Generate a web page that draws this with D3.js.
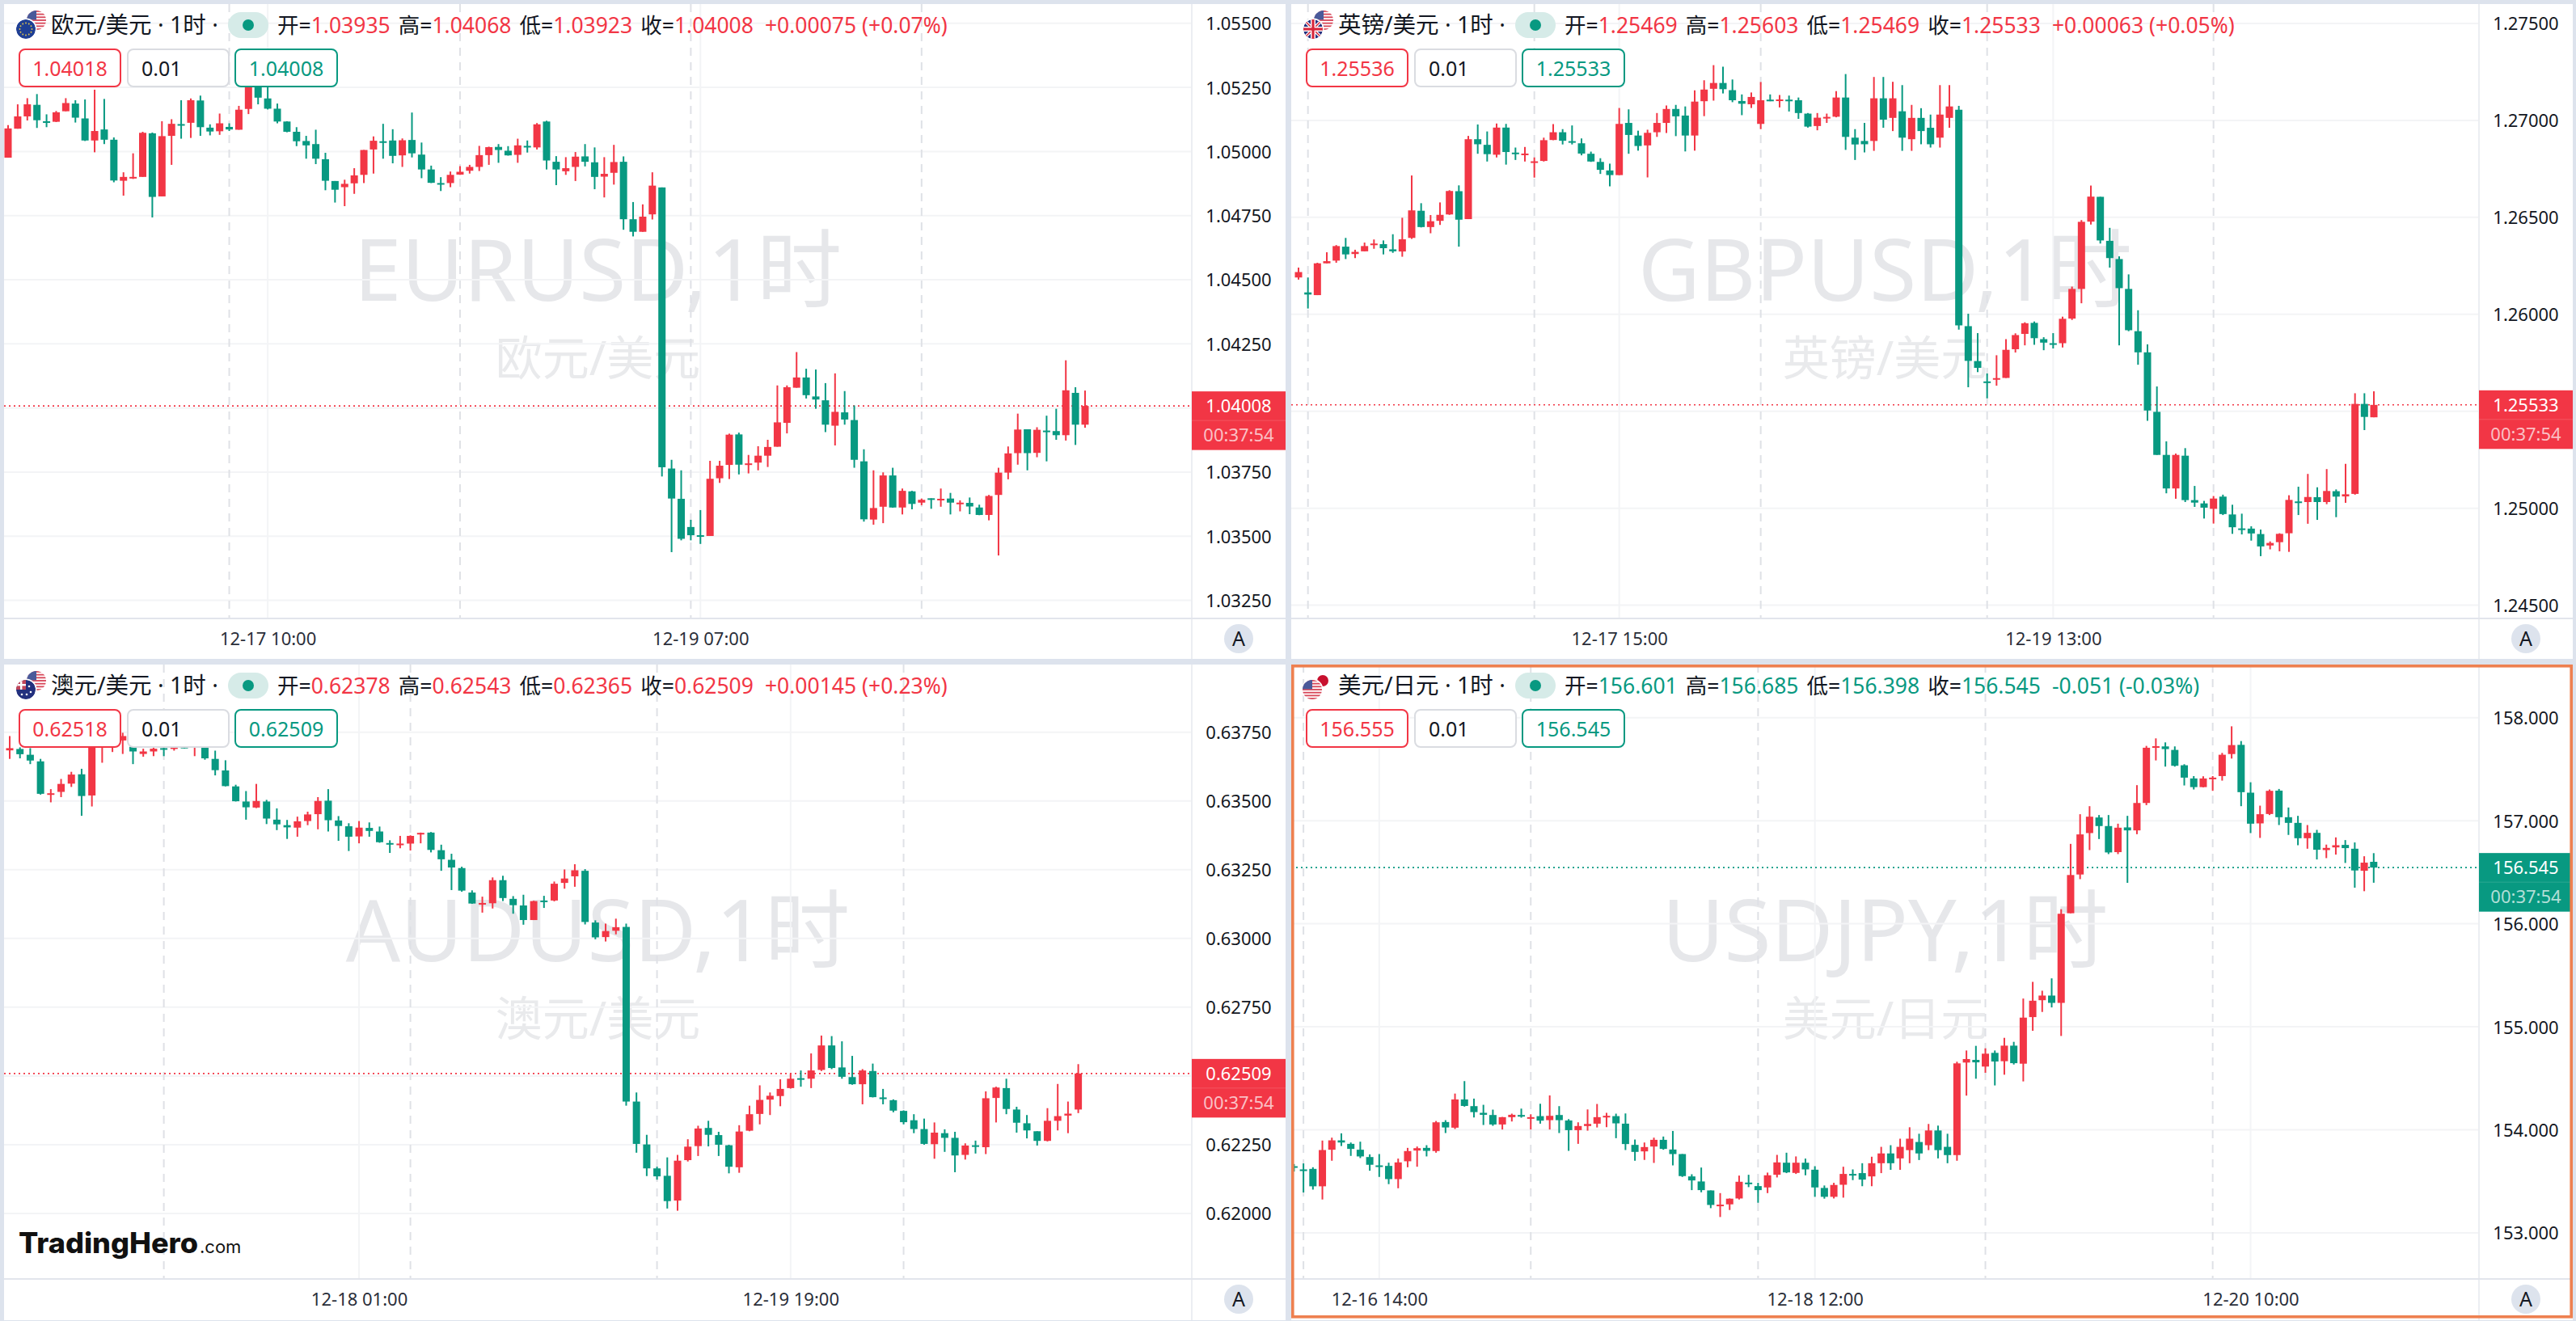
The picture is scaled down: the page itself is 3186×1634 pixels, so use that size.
<!DOCTYPE html>
<html><head><meta charset="utf-8">
<script src="https://cdn.jsdelivr.net/npm/d3@7/dist/d3.min.js"></script>
<style>
html,body{margin:0;padding:0;background:#dde3ed;}
svg{display:block;}
text{font-family:"Noto Sans","Noto Sans CJK SC",sans-serif;}
</style></head><body>
<svg id="chart" width="3186" height="1634" xmlns="http://www.w3.org/2000/svg"></svg>
<script>
// ---------- DATA: rows are [open, high, low, close] in price points ----------
const eurusdBars=[
[104976,105103,104976,105090],[105089,105184,105089,105137],[105137,105208,105121,105184],[105182,105224,105092,105122],[105118,105145,105095,105115],[105116,105158,105115,105153],[105157,105208,105157,105189],[105187,105200,105113,105132],[105129,105203,105041,105043],[105043,105241,104997,105080],
[105086,105205,105029,105046],[105046,105055,104880,104887],[104886,104919,104828,104901],[104897,104993,104893,104901],[104901,105077,104901,105073],[105071,105074,104743,104823],[104825,105118,104825,105060],[105061,105126,104948,105108],[105107,105200,105050,105104],[105112,105207,105053,105200],
[105199,105218,105061,105095],[105093,105106,105063,105078],[105079,105148,105065,105110],[105096,105110,105080,105086],[105085,105178,105085,105163],[105166,105300,105146,105287],[105276,105292,105184,105210],[105207,105255,105164,105167],[105167,105187,105110,105117],[105117,105118,105075,105077],
[105077,105095,105021,105040],[105041,105061,104972,105024],[105029,105085,104951,104972],[104970,104995,104849,104886],[104885,104885,104801,104851],[104861,104890,104787,104874],[104876,104935,104835,104907],[104909,105006,104877,105006],[105008,105059,104914,105042],[105040,105108,104972,105038],
[105043,105087,104954,104983],[104985,105051,104940,105044],[105045,105152,104977,104993],[104988,105035,104896,104930],[104930,104945,104877,104878],[104877,104900,104846,104874],[104877,104922,104861,104909],[104910,104943,104909,104921],[104925,104948,104914,104940],[104940,105022,104924,104986],
[104986,105019,104948,105017],[105018,105029,104956,105006],[105003,105021,104984,104985],[104987,105050,104956,105024],[105022,105043,104996,105020],[105016,105111,105008,105106],[105117,105120,104930,104965],[104960,104982,104869,104930],[104923,104978,104909,104935],[104940,104998,104885,104980],
[104981,105029,104942,104960],[104958,105016,104853,104901],[104902,104978,104821,104913],[104917,105026,104871,104959],[104960,104981,104695,104736],[104736,104803,104669,104687],[104687,104794,104687,104746],[104755,104919,104735,104867],[104860,104860,103733,103769],[103764,103798,103438,103647],
[103646,103757,103484,103490],[103536,103564,103484,103504],[103504,103602,103470,103498],[103501,103794,103501,103724],[103726,103794,103708,103775],[103778,103900,103723,103896],[103897,103904,103741,103779],[103779,103817,103745,103784],[103787,103851,103757,103814],[103814,103876,103770,103848],
[103849,104088,103849,103944],[103942,104088,103901,104081],[104079,104218,104079,104119],[104119,104153,104037,104050],[104045,104150,103997,104033],[104030,104097,103906,103935],[103931,104135,103854,103985],[103983,104066,103935,103955],[103953,104010,103767,103798],[103792,103839,103557,103566],
[103565,103757,103545,103610],[103615,103749,103551,103737],[103737,103767,103611,103612],[103612,103686,103585,103677],[103675,103677,103605,103626],[103631,103647,103621,103642],[103648,103648,103607,103645],[103642,103686,103615,103646],[103647,103669,103585,103631],[103627,103640,103597,103631],
[103630,103651,103586,103616],[103612,103623,103582,103583],[103583,103661,103562,103657],[103661,103767,103425,103748],[103748,103850,103722,103823],[103824,103978,103779,103916],[103917,103917,103757,103824],[103825,103925,103808,103915],[103912,103970,103792,103910],[103910,103997,103876,103894],
[103894,104186,103873,104069],[104059,104081,103856,103935],[103935,104068,103923,104008]];

const gbpusdBars=[
[126190,126241,126179,126218],[126113,126190,126030,126102],[126099,126266,126099,126263],[126263,126320,126263,126274],[126277,126357,126266,126352],[126349,126394,126285,126309],[126311,126333,126290,126322],[126325,126370,126325,126352],[126357,126386,126338,126365],[126362,126381,126309,126341],
[126335,126413,126317,126325],[126324,126498,126297,126387],[126394,126716,126389,126536],[126534,126573,126448,126450],[126450,126512,126418,126480],[126482,126577,126461,126513],[126515,126640,126513,126636],[126635,126665,126349,126488],[126491,126920,126491,126903],[126903,126979,126828,126877],
[126874,126943,126788,126826],[126823,126984,126809,126963],[126963,126982,126772,126837],[126834,126860,126796,126831],[126825,126863,126788,126829],[126783,126809,126705,126789],[126791,126911,126788,126898],[126899,126981,126898,126939],[126939,126955,126876,126895],[126893,126974,126876,126888],
[126882,126907,126820,126829],[126828,126839,126786,126788],[126786,126805,126724,126745],[126742,126777,126660,126718],[126718,127064,126718,126982],[126987,127057,126828,126925],[126922,126947,126844,126868],[126871,126952,126706,126936],[126939,127038,126915,126987],[126987,127077,126935,127059],
[127059,127080,126919,127021],[127025,127072,126840,126922],[126922,127155,126844,127097],[127099,127207,127022,127159],[127163,127285,127102,127193],[127193,127277,127139,127161],[127156,127211,127094,127104],[127100,127134,127027,127086],[127083,127144,127064,127121],[126982,127198,126955,127104],
[127107,127134,127099,127102],[127100,127131,127067,127108],[127107,127128,127046,127102],[127104,127118,127008,127038],[127035,127038,126963,126968],[126971,127038,126949,127014],[127011,127035,126987,127018],[127019,127151,127016,127118],[127118,127239,126848,126915],[126911,126955,126796,126876],
[126894,126987,126835,126877],[126894,127224,126843,127114],[127114,127224,126962,127004],[127013,127199,126945,127114],[127047,127182,126843,126911],[126903,127080,126843,127013],[127013,127063,126877,126945],[126962,127030,126860,126877],[126911,127182,126860,127030],[127013,127182,126962,127072],
[127055,127075,125921,125943],[125939,126003,125624,125760],[125759,125903,125702,125724],[125654,125695,125567,125652],[125667,125789,125632,125671],[125672,125872,125672,125817],[125820,125902,125803,125893],[125899,125959,125840,125954],[125956,125963,125843,125877],[125872,125882,125815,125854],
[125851,125903,125824,125847],[125851,125988,125829,125977],[125978,126143,125971,126131],[126131,126486,126057,126477],[126478,126664,126463,126607],[126606,126606,126365,126381],[126379,126446,126241,126290],[126285,126299,125840,126135],[126131,126206,125913,125918],[125913,126021,125740,125804],
[125804,125845,125451,125504],[125497,125628,125275,125275],[125275,125345,125077,125102],[125102,125282,125049,125275],[125271,125310,125032,125042],[125042,125115,125007,125029],[125025,125038,124947,125003],[124997,125063,124921,125050],[125060,125070,124965,124970],[124968,125018,124868,124902],
[124896,124972,124865,124892],[124895,124907,124833,124870],[124867,124890,124753,124803],[124808,124829,124788,124821],[124825,124871,124778,124868],[124871,125067,124775,125043],[125035,125111,124965,125031],[125032,125177,124920,125058],[125057,125108,124940,125032],[125032,125202,125021,125089],
[125088,125097,124954,125060],[125061,125229,125028,125072],[125074,125593,125070,125538],[125538,125593,125403,125471],[125469,125603,125469,125533]];

const audusdBars=[
[63684,63736,63653,63692],[63689,63695,63655,63670],[63668,63692,63634,63647],[63644,63653,63523,63526],[63525,63543,63495,63528],[63533,63580,63514,63562],[63563,63606,63551,63596],[63597,63617,63446,63518],[63520,63717,63480,63707],[63699,63727,63639,63722],
[63702,63727,63678,63717],[63720,63748,63671,63736],[63697,63707,63634,63680],[63671,63690,63661,63680],[63680,63697,63663,63690],[63692,63697,63663,63688],[63692,63702,63683,63695],[63697,63702,63691,63694],[63695,63712,63663,63702],[63697,63702,63650,63655],
[63653,63683,63593,63612],[63611,63648,63553,63554],[63553,63559,63498,63499],[63498,63536,63432,63477],[63476,63562,63474,63500],[63498,63504,63416,63436],[63432,63473,63394,63415],[63412,63431,63362,63404],[63403,63443,63370,63426],[63427,63461,63412,63451],
[63452,63514,63397,63500],[63501,63543,63389,63430],[63429,63445,63355,63409],[63408,63419,63318,63370],[63371,63427,63346,63403],[63402,63422,63370,63391],[63389,63407,63348,63350],[63347,63357,63311,63345],[63342,63373,63328,63345],[63345,63375,63320,63373],
[63379,63385,63346,63384],[63385,63387,63313,63322],[63321,63341,63246,63288],[63286,63308,63176,63258],[63256,63261,63170,63174],[63167,63175,63126,63127],[63125,63152,63094,63129],[63128,63222,63109,63212],[63212,63228,63136,63147],[63144,63154,63090,63121],
[63120,63159,63050,63067],[63067,63137,63067,63136],[63138,63155,63111,63135],[63138,63207,63135,63199],[63202,63251,63181,63218],[63226,63270,63188,63248],[63246,63252,63051,63060],[63058,63066,62997,63004],[63005,63054,62989,63027],[63028,63072,63015,63041],
[63042,63054,62392,62407],[62407,62440,62221,62253],[62251,62286,62136,62164],[62164,62170,62123,62135],[62137,62204,62018,62045],[62047,62213,62010,62192],[62194,62270,62189,62243],[62245,62319,62209,62309],[62311,62337,62244,62286],[62285,62297,62209,62250],
[62248,62250,62146,62170],[62168,62321,62148,62298],[62301,62392,62299,62361],[62362,62466,62324,62413],[62414,62440,62358,62428],[62427,62488,62390,62453],[62456,62510,62454,62490],[62492,62520,62461,62489],[62490,62582,62456,62520],[62522,62647,62518,62611],
[62611,62645,62525,62529],[62531,62626,62490,62497],[62496,62573,62468,62470],[62470,62525,62397,62520],[62518,62545,62422,62423],[62422,62453,62397,62416],[62412,62415,62368,62374],[62373,62375,62324,62332],[62339,62361,62292,62307],[62307,62345,62250,62253],
[62252,62331,62199,62294],[62292,62306,62224,62275],[62275,62297,62150,62211],[62213,62255,62196,62247],[62248,62265,62218,62244],[62241,62444,62216,62419],[62420,62461,62331,62458],[62456,62490,62361,62380],[62378,62388,62294,62330],[62328,62358,62273,62302],
[62299,62299,62247,62264],[62264,62383,62262,62337],[62337,62471,62302,62354],[62356,62407,62292,62363],[62378,62543,62365,62509]];

const usdjpyBars=[
[153647,153668,153595,153634],[153616,153674,153392,153600],[153621,153637,153420,153452],[153452,153896,153324,153804],[153807,153924,153700,153898],[153898,153966,153843,153877],[153864,153877,153747,153815],[153807,153885,153726,153742],[153736,153762,153603,153661],[153655,153765,153543,153650],
[153650,153681,153473,153522],[153522,153721,153433,153684],[153695,153825,153637,153794],[153799,153838,153642,153822],[153825,153851,153742,153796],[153794,154086,153778,154073],[154076,154094,153969,154023],[154021,154352,154008,154295],[154295,154473,154225,154232],[154230,154303,154120,154172],
[154165,154243,154047,154146],[154144,154196,154039,154052],[154052,154125,154003,154123],[154123,154157,154081,154146],[154144,154206,154118,154131],[154110,154151,154003,154123],[154133,154253,154060,154089],[154094,154334,154003,154136],[154144,154230,153969,154094],[154091,154104,153796,153997],
[153997,154073,153864,154037],[154037,154198,153992,154057],[154060,154251,154023,154123],[154123,154165,154026,154136],[154133,154157,153919,154063],[154060,154159,153804,153862],[153854,153906,153700,153786],[153791,153877,153708,153833],[153838,153924,153679,153903],[153903,153935,153807,153815],
[153809,153989,153655,153765],[153765,153765,153543,153551],[153548,153569,153415,153509],[153499,153634,153394,153415],[153412,153412,153240,153271],[153261,153386,153154,153274],[153277,153334,153222,153332],[153334,153556,153324,153496],[153488,153564,153444,153478],[153454,153486,153292,153415],
[153441,153585,153386,153559],[153564,153757,153538,153684],[153681,153778,153580,153587],[153582,153742,153572,153681],[153681,153721,153559,153616],[153613,153647,153350,153441],[153436,153460,153332,153350],[153350,153486,153334,153465],[153467,153642,153342,153572],[153572,153616,153512,153561],
[153580,153676,153453,153517],[153548,153739,153453,153676],[153676,153835,153580,153771],[153771,153851,153612,153676],[153723,153914,153612,153835],[153803,154025,153676,153914],[153882,153962,153707,153771],[153851,154057,153803,153994],[153994,154041,153723,153803],[153835,153962,153676,153755],
[153755,154661,153700,154645],[154653,154770,154332,154687],[154679,154815,154496,154655],[154614,154791,154554,154739],[154747,154770,154431,154663],[154666,154893,154535,154817],[154817,154854,154634,154647],[154642,155274,154470,155089],[155094,155436,154961,155253],[155258,155350,155144,155303],
[155303,155470,155188,155232],[155232,156141,154911,156097],[156102,156775,156102,156473],[156478,157063,156433,156867],[156880,157141,156715,157039],[157031,157055,156822,156948],[156948,157055,156676,156692],[156695,156971,156676,156932],[156935,157047,156397,156906],[156906,157345,156869,157172],
[157172,157726,157151,157708],[157710,157799,157585,157723],[157721,157760,157525,157695],[157687,157721,157525,157533],[157538,157548,157342,157418],[157410,157433,157303,157326],[157326,157431,157324,157410],[157407,157433,157290,157418],[157433,157658,157389,157640],[157647,157916,157603,157734],
[157736,157773,157141,157277],[157272,157373,156880,156971],[156974,157146,156833,157063],[157065,157303,157055,157290],[157292,157308,156958,157034],[157034,157128,156862,156979],[156979,157047,156762,156830],[156830,156958,156728,156882],[156882,156911,156624,156718],[156715,156768,156637,156736],
[156741,156838,156671,156762],[156765,156812,156590,156734],[156728,156789,156350,156517],[156514,156655,156316,156593],[156601,156685,156398,156545]];

// price-axis ticks (same point units as the bars)
const eurusdTicks=[105500,105250,105000,104750,104500,104250,104000,103750,103500,103250];
const gbpusdTicks=[127500,127000,126500,126000,125500,125000,124500];
const audusdTicks=[63750,63500,63250,63000,62750,62500,62250,62000];
const usdjpyTicks=[158000,157000,156000,155000,154000,153000];

// time-axis: bar index -> label, and session-break bar indices
const eurusdTimeIdx=[27,72],   eurusdTimeLbl=["12-17 10:00","12-19 07:00"],   eurusdBreaks=[23,47,71,95];
const gbpusdTimeIdx=[34,80],   gbpusdTimeLbl=["12-17 15:00","12-19 13:00"],   gbpusdBreaks=[1,25,49,73,97];
const audusdTimeIdx=[34,76],   audusdTimeLbl=["12-18 01:00","12-19 19:00"],   audusdBreaks=[15,39,63,87];
const usdjpyTimeIdx=[9,55,101],usdjpyTimeLbl=["12-16 14:00","12-18 12:00","12-20 10:00"],usdjpyBreaks=[1,25,49,73,97];

const eurusdHead=["欧元/美元","EURUSD","1.04018","1.04008","1.03935","1.04068","1.03923","1.04008","+0.00075 (+0.07%)"];
const gbpusdHead=["英镑/美元","GBPUSD","1.25536","1.25533","1.25469","1.25603","1.25469","1.25533","+0.00063 (+0.05%)"];
const audusdHead=["澳元/美元","AUDUSD","0.62518","0.62509","0.62378","0.62543","0.62365","0.62509","+0.00145 (+0.23%)"];
const usdjpyHead=["美元/日元","USDJPY","156.555","156.545","156.601","156.685","156.398","156.545","-0.051 (-0.03%)"];
const countdown="00:37:54";

// ---------- STYLE / LAYOUT ----------
const UP="#F23645",DOWN="#089981",GRID="#f3f4f6",BREAK="#dfe1e6",AXIS="#e2e5ec",TEXT="#131722";
const panels=[
 {id:"eur",bars:eurusdBars,ticks:eurusdTicks,idx:eurusdTimeIdx,lbl:eurusdTimeLbl,brk:eurusdBreaks,head:eurusdHead,div:1e5,dec:5,
  x0:5,y0:5,h:810,bot:765,xr:[10,1342],yd:[105500,103250],yr:[28.8,742.6],flag:"eu"},
 {id:"gbp",bars:gbpusdBars,ticks:gbpusdTicks,idx:gbpusdTimeIdx,lbl:gbpusdTimeLbl,brk:gbpusdBreaks,head:gbpusdHead,div:1e5,dec:5,
  x0:1597,y0:5,h:810,bot:765,xr:[1606,2936],yd:[127500,124500],yr:[29,748.6],flag:"uk"},
 {id:"aud",bars:audusdBars,ticks:audusdTicks,idx:audusdTimeIdx,lbl:audusdTimeLbl,brk:audusdBreaks,head:audusdHead,div:1e5,dec:5,
  x0:5,y0:822,h:811,bot:1582,xr:[12,1333.6],yd:[63750,62000],yr:[905.7,1501],flag:"au"},
 {id:"jpy",bars:usdjpyBars,ticks:usdjpyTicks,idx:usdjpyTimeIdx,lbl:usdjpyTimeLbl,brk:usdjpyBreaks,head:usdjpyHead,div:1e3,dec:3,
  x0:1597,y0:822,h:811,bot:1582,xr:[1600.4,2935.8],yd:[158000,153000],yr:[887.7,1525],flag:"jp",focus:true}
];
const PANEL_W=1585,AXIS_W=116,BODY_W=9,WICK_W=2;

const svg=d3.select("#chart");
const defs=svg.append("defs");
svg.append("rect").attr("width",3186).attr("height",1634).attr("fill","#dde3ed");

function usFlag(g,cx,cy,r,uid){
  defs.append("clipPath").attr("id",uid).append("circle").attr("cx",cx).attr("cy",cy).attr("r",r);
  const f=g.append("g").attr("clip-path",`url(#${uid})`);
  f.append("circle").attr("cx",cx).attr("cy",cy).attr("r",r).attr("fill","#fff");
  d3.range(0,7).forEach(i=>f.append("rect").attr("x",cx-r).attr("y",cy-r+i*2*r/6.5).attr("width",2*r).attr("height",r/6.5).attr("fill","#d8485a"));
  f.append("rect").attr("x",cx-r).attr("y",cy-r).attr("width",r).attr("height",r*0.95).attr("fill","#4a5a9a");
}
function drawFlags(g,p){
  const o=p.x0,t=p.y0;
  if(p.flag==="jp"){
    g.append("circle").attr("cx",o+39).attr("cy",t+20).attr("r",7).attr("fill","#c8102e");
    g.append("circle").attr("cx",o+26).attr("cy",t+31).attr("r",13.5).attr("fill","#fff");
    usFlag(g,o+26,t+31,12,"clipus"+p.id);
    return;
  }
  usFlag(g,o+40,t+20,12,"clipus"+p.id);
  const cx=o+27,cy=t+31,r=12;
  g.append("circle").attr("cx",cx).attr("cy",cy).attr("r",r+1.5).attr("fill","#fff");
  defs.append("clipPath").attr("id","clipf"+p.id).append("circle").attr("cx",cx).attr("cy",cy).attr("r",r);
  const f=g.append("g").attr("clip-path",`url(#clipf${p.id})`);
  f.append("circle").attr("cx",cx).attr("cy",cy).attr("r",r).attr("fill",p.flag==="eu"?"#1f3f94":"#23307e");
  if(p.flag==="eu"){
    d3.range(12).forEach(i=>f.append("circle").attr("cx",cx+7.5*Math.cos(i*Math.PI/6)).attr("cy",cy+7.5*Math.sin(i*Math.PI/6)).attr("r",0.9).attr("fill","#e6c84a"));
  } else if(p.flag==="uk"){
    f.append("line").attr("x1",cx-r).attr("y1",cy-r).attr("x2",cx+r).attr("y2",cy+r).attr("stroke","#fff").attr("stroke-width",4);
    f.append("line").attr("x1",cx+r).attr("y1",cy-r).attr("x2",cx-r).attr("y2",cy+r).attr("stroke","#fff").attr("stroke-width",4);
    f.append("line").attr("x1",cx-r).attr("y1",cy-r).attr("x2",cx+r).attr("y2",cy+r).attr("stroke","#d8283c").attr("stroke-width",1.5);
    f.append("line").attr("x1",cx+r).attr("y1",cy-r).attr("x2",cx-r).attr("y2",cy+r).attr("stroke","#d8283c").attr("stroke-width",1.5);
    f.append("rect").attr("x",cx-r).attr("y",cy-3).attr("width",2*r).attr("height",6).attr("fill","#fff");
    f.append("rect").attr("x",cx-3).attr("y",cy-r).attr("width",6).attr("height",2*r).attr("fill","#fff");
    f.append("rect").attr("x",cx-r).attr("y",cy-1.6).attr("width",2*r).attr("height",3.2).attr("fill","#d8283c");
    f.append("rect").attr("x",cx-1.6).attr("y",cy-r).attr("width",3.2).attr("height",2*r).attr("fill","#d8283c");
  } else {
    f.append("rect").attr("x",cx-r).attr("y",cy-r).attr("width",r).attr("height",r).attr("fill","#c0455a");
    f.append("rect").attr("x",cx-r).attr("y",cy-r/2-1).attr("width",r).attr("height",2.4).attr("fill","#fff");
    f.append("rect").attr("x",cx-r/2-1).attr("y",cy-r).attr("width",2.4).attr("height",r).attr("fill","#fff");
    [[4,-4],[6,3],[1,6],[-5,6]].forEach(d=>f.append("circle").attr("cx",cx+d[0]).attr("cy",cy+d[1]).attr("r",1.3).attr("fill","#fff"));
  }
}

panels.forEach(p=>{
  const plotR=p.x0+PANEL_W-AXIS_W, botAxis=p.y0+p.h;
  const x=d3.scaleLinear().domain([0,p.bars.length-1]).range(p.xr);
  const y=d3.scaleLinear().domain(p.yd).range(p.yr);
  const g=svg.append("g").attr("class","panel-"+p.id);
  g.append("rect").attr("x",p.x0).attr("y",p.y0).attr("width",PANEL_W).attr("height",p.h).attr("fill","#fff");

  defs.append("clipPath").attr("id","plot"+p.id).append("rect").attr("x",p.x0).attr("y",p.y0).attr("width",plotR-p.x0).attr("height",p.bot-p.y0);
  const plot=g.append("g").attr("clip-path",`url(#plot${p.id})`);

  // watermark
  const cx=(p.x0+plotR)/2;
  plot.append("text").attr("x",cx).attr("y",p.y0+367).attr("text-anchor","middle").attr("font-size",105.5).attr("fill","#e6e7ea").text(p.head[1]+",1时");
  plot.append("text").attr("x",cx).attr("y",p.y0+459).attr("text-anchor","middle").attr("font-size",58).attr("fill","#e9eaec").text(p.head[0]);

  // grid
  plot.selectAll("line.h").data(p.ticks).join("line").attr("x1",p.x0).attr("x2",plotR).attr("y1",d=>y(d)).attr("y2",d=>y(d)).attr("stroke",GRID).attr("stroke-width",2);
  plot.selectAll("line.v").data(p.idx).join("line").attr("x1",d=>x(d)).attr("x2",d=>x(d)).attr("y1",p.y0).attr("y2",p.bot).attr("stroke",GRID).attr("stroke-width",2);
  plot.selectAll("line.b").data(p.brk).join("line").attr("x1",d=>x(d)).attr("x2",d=>x(d)).attr("y1",p.y0).attr("y2",p.bot).attr("stroke",BREAK).attr("stroke-width",2).attr("stroke-dasharray","10 8");

  const last=p.bars[p.bars.length-1];
  const lastUp=last[3]>=last[0], lastCol=lastUp?UP:DOWN;

  // last price line
  plot.append("line").attr("x1",p.x0).attr("x2",plotR).attr("y1",y(last[3])).attr("y2",y(last[3])).attr("stroke",lastCol).attr("stroke-width",1.6).attr("stroke-dasharray","2 4");

  // candles
  const c=plot.append("g").selectAll("g").data(p.bars).join("g").attr("fill",d=>d[3]>=d[0]?UP:DOWN);
  c.append("rect").attr("x",(d,i)=>x(i)-WICK_W/2).attr("width",WICK_W).attr("y",d=>y(d[1])).attr("height",d=>Math.max(1,y(d[2])-y(d[1])));
  c.append("rect").attr("x",(d,i)=>x(i)-BODY_W/2).attr("width",BODY_W).attr("y",d=>y(Math.max(d[0],d[3]))).attr("height",d=>Math.max(2,Math.abs(y(d[0])-y(d[3]))));

  // axes
  g.append("line").attr("x1",plotR).attr("x2",plotR).attr("y1",p.y0).attr("y2",botAxis).attr("stroke","#eceef2").attr("stroke-width",2);
  g.append("line").attr("x1",p.x0).attr("x2",p.x0+PANEL_W).attr("y1",p.bot).attr("y2",p.bot).attr("stroke",AXIS).attr("stroke-width",2);

  // price + countdown tag position: tick labels under it are covered in the reference
  const ty=y(last[3])-18, tagH=72.5;
  const shownTicks=p.ticks.filter(t=>y(t)<ty-8||y(t)>ty+tagH+8);
  const yAxis=g.append("g").attr("transform",`translate(${plotR},0)`).call(
    d3.axisRight(y).tickValues(shownTicks).tickSize(0).tickFormat(d=>(d/p.div).toFixed(p.dec)));
  yAxis.select(".domain").remove();
  yAxis.selectAll("text").attr("x",58).attr("dy","0.36em").attr("text-anchor","middle").attr("font-size",22).attr("font-family",'"Noto Sans",sans-serif').attr("fill",TEXT);

  const xAxis=g.append("g").attr("transform",`translate(0,${p.bot})`).call(
    d3.axisBottom(x).tickValues(p.idx).tickSize(0).tickFormat((d,i)=>p.lbl[i]));
  xAxis.select(".domain").remove();
  xAxis.selectAll("text").attr("y",25).attr("dy","0.36em").attr("font-size",22).attr("font-family",'"Noto Sans",sans-serif').attr("fill","#2a2e39");

  // auto-scale badge
  g.append("circle").attr("cx",plotR+58).attr("cy",p.bot+25).attr("r",18).attr("fill","#dde3ed");
  g.append("text").attr("x",plotR+58).attr("y",p.bot+25).attr("dy","0.36em").attr("text-anchor","middle").attr("font-size",25).attr("fill",TEXT).text("A");

  g.append("rect").attr("x",plotR).attr("y",ty).attr("width",AXIS_W).attr("height",tagH).attr("fill",lastCol);
  g.append("line").attr("x1",plotR).attr("x2",plotR+AXIS_W).attr("y1",ty+36).attr("y2",ty+36).attr("stroke","#fff").attr("stroke-opacity",0.15).attr("stroke-width",1);
  g.append("text").attr("x",plotR+58).attr("y",ty+18).attr("dy","0.36em").attr("text-anchor","middle").attr("font-size",22).attr("fill","#fff").text(p.head[7]);
  g.append("text").attr("x",plotR+58).attr("y",ty+54).attr("dy","0.36em").attr("text-anchor","middle").attr("font-size",22).attr("fill","#fff").attr("fill-opacity",0.7).text(countdown);

  // header
  drawFlags(g,p);
  const hy=p.y0+36;
  g.append("text").attr("x",p.x0+58).attr("y",hy).attr("font-size",28.5).attr("fill",TEXT).text(p.head[0]+" · 1时 ·");
  g.append("rect").attr("x",p.x0+277).attr("y",p.y0+10).attr("width",50).attr("height",32).attr("rx",16).attr("fill","#d6ebe8");
  g.append("circle").attr("cx",p.x0+302).attr("cy",p.y0+26).attr("r",7).attr("fill",DOWN);

  const vc=lastUp?UP:DOWN;
  const ohlc=g.append("text").attr("x",p.x0+338).attr("y",hy).attr("font-size",26.5).attr("fill",TEXT);
  [["开=",4],["高=",5],["低=",6],["收=",7]].forEach((k,i)=>{
    ohlc.append("tspan").attr("dx",i?10:0).text(k[0]);
    ohlc.append("tspan").attr("fill",vc).text(p.head[k[1]]);
  });
  ohlc.append("tspan").attr("dx",14).attr("fill",vc).text(p.head[8]);

  // quantity boxes
  const by=p.y0+56;
  [[19,125,UP,p.head[2],vc=>UP,"middle"],[153,125,"#dadce1","0.01",()=>TEXT,"start"],[286,126,DOWN,p.head[3],()=>DOWN,"middle"]].forEach(b=>{
    g.append("rect").attr("x",p.x0+b[0]).attr("y",by).attr("width",b[1]).attr("height",46).attr("rx",7).attr("fill","#fff").attr("stroke",b[2]).attr("stroke-width",2);
    g.append("text").attr("x",b[5]==="middle"?p.x0+b[0]+b[1]/2:p.x0+b[0]+17).attr("y",by+24).attr("dy","0.36em").attr("text-anchor",b[5]).attr("font-size",25).attr("fill",b[4]()).text(b[3]);
  });

  // selected-panel outline
  if(p.focus){
    g.append("rect").attr("x",p.x0+1.8).attr("y",p.y0+1.8).attr("width",PANEL_W-3.6).attr("height",p.h-6).attr("fill","none").attr("stroke","#ee8050").attr("stroke-width",3.6);
  }
});

// brand mark
const logo=svg.append("text").attr("x",23).attr("y",1550).attr("fill","#111");
logo.append("tspan").attr("font-family","Inter,sans-serif").attr("font-weight",800).attr("font-size",35).attr("textLength",222).attr("lengthAdjust","spacingAndGlyphs").text("TradingHero");
logo.append("tspan").attr("font-family","Inter,sans-serif").attr("font-size",22).attr("dx",2).text(".com");
</script>
</body></html>
